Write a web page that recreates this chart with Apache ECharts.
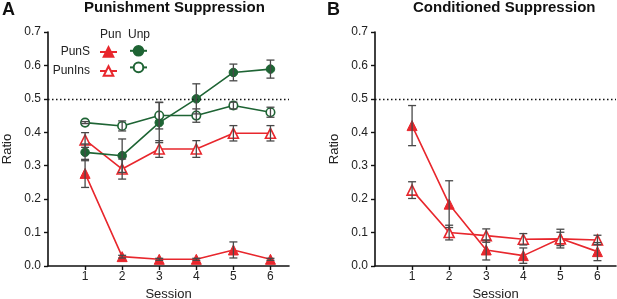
<!DOCTYPE html>
<html>
<head>
<meta charset="utf-8">
<script src="https://cdn.jsdelivr.net/npm/echarts@6/dist/echarts.min.js"></script>
<style>
  html, body { margin: 0; padding: 0; background: #fff; }
  #chart { width: 617px; height: 299px; }
</style>
</head>
<body>
<div id="chart"></div>
<script>
// sessions (x values)
var sessions = [1, 2, 3, 4, 5, 6];
var yTicks = [0, 0.1, 0.2, 0.3, 0.4, 0.5, 0.6, 0.7];

// panel A - punishment suppression
var aPunS = [0.277, 0.028, 0.02, 0.02, 0.048, 0.02];
var aPunSErr = [0.042, 0.004, 0.003, 0.003, 0.024, 0.003];
var aPunIns = [0.377, 0.29, 0.35, 0.35, 0.397, 0.397];
var aPunInsErr = [0.022, 0.03, 0.025, 0.025, 0.023, 0.023];
var aUnpS = [0.34, 0.33, 0.429, 0.50, 0.579, 0.589];
var aUnpSErr = [0.025, 0.05, 0.06, 0.045, 0.025, 0.027];
var aUnpIns = [0.429, 0.419, 0.45, 0.45, 0.48, 0.46];
var aUnpInsErr = [0.003, 0.015, 0.04, 0.02, 0.01, 0.015];

// panel B - conditioned suppression
var bPunS = [0.42, 0.185, 0.048, 0.031, 0.082, 0.043];
var bPunSErr = [0.06, 0.07, 0.03, 0.023, 0.028, 0.027];
var bPunIns = [0.227, 0.10, 0.091, 0.08, 0.081, 0.078];
var bPunInsErr = [0.025, 0.022, 0.02, 0.017, 0.02, 0.014];

var RED = "#e8272d";
var GREEN = "#1e6434";
var ERR = "#484848";
var FONT = "Liberation Sans, Arial, sans-serif";

function pairs(ys) {
  return sessions.map(function (x, i) { return [x, ys[i]]; });
}
function errData(ys, es) {
  return sessions.map(function (x, i) { return [x, ys[i] - es[i], ys[i] + es[i]]; });
}

function lineSeries(name, idx, ys, color, open, sym) {
  return {
    name: name,
    type: "line",
    xAxisIndex: idx,
    yAxisIndex: idx,
    data: pairs(ys),
    symbol: sym,
    symbolSize: sym === "triangle" ? 10 : 8.5,
    lineStyle: { color: color, width: 1.6 },
    itemStyle: open
      ? { color: "#fff", borderColor: color, borderWidth: 1.6 }
      : { color: color, borderColor: color, borderWidth: 1 },
    z: 3,
    animation: false
  };
}

function errSeries(idx, ys, es) {
  return {
    type: "custom",
    xAxisIndex: idx,
    yAxisIndex: idx,
    data: errData(ys, es),
    z: 5,
    silent: true,
    animation: false,
    renderItem: function (params, api) {
      var lo = api.coord([api.value(0), api.value(1)]);
      var hi = api.coord([api.value(0), api.value(2)]);
      var w = 4;
      var st = { stroke: ERR, lineWidth: 1.3 };
      return {
        type: "group",
        children: [
          { type: "line", shape: { x1: lo[0], y1: lo[1], x2: hi[0], y2: hi[1] }, style: st },
          { type: "line", shape: { x1: lo[0] - w, y1: lo[1], x2: lo[0] + w, y2: lo[1] }, style: st },
          { type: "line", shape: { x1: hi[0] - w, y1: hi[1], x2: hi[0] + w, y2: hi[1] }, style: st }
        ]
      };
    }
  };
}

function xAxis(idx) {
  return {
    type: "value",
    gridIndex: idx,
    min: 0,
    max: 6.5,
    interval: 1,
    name: "Session",
    nameLocation: "middle",
    nameGap: 21,
    nameTextStyle: { fontFamily: FONT, fontSize: 13, color: "#222" },
    splitLine: { show: false },
    axisLine: { lineStyle: { color: "#111", width: 1.6 } },
    axisTick: { length: 4, lineStyle: { color: "#111", width: 1.4 }, customValues: sessions },
    axisLabel: { fontFamily: FONT, fontSize: 12, color: "#222", margin: 5, customValues: sessions }
  };
}

function yAxis(idx) {
  return {
    type: "value",
    gridIndex: idx,
    min: 0,
    max: 0.7,
    interval: 0.1,
    name: "Ratio",
    nameLocation: "middle",
    nameGap: 34,
    nameTextStyle: { fontFamily: FONT, fontSize: 13, color: "#222" },
    splitLine: { show: false },
    axisLine: { show: true, lineStyle: { color: "#111", width: 1.6 } },
    axisTick: { show: true, length: 4, lineStyle: { color: "#111", width: 1.4 }, customValues: yTicks },
    axisLabel: {
      fontFamily: FONT, fontSize: 12, color: "#222", margin: 7, customValues: yTicks,
      formatter: function (v) { return v.toFixed(1); }
    }
  };
}

var refLine = {
  silent: true,
  symbol: "none",
  label: { show: false },
  lineStyle: { color: "#111", type: [1.5, 2.5], width: 1.4 },
  data: [{ yAxis: 0.5 }]
};

var sA1 = lineSeries("PunS", 0, aPunS, RED, false, "triangle");
var sA2 = lineSeries("PunIns", 0, aPunIns, RED, true, "triangle");
var sA3 = lineSeries("Unp S", 0, aUnpS, GREEN, false, "circle");
var sA4 = lineSeries("Unp Ins", 0, aUnpIns, GREEN, true, "circle");
var sB1 = lineSeries("B PunS", 1, bPunS, RED, false, "triangle");
var sB2 = lineSeries("B PunIns", 1, bPunIns, RED, true, "triangle");
sA1.markLine = refLine;
sB1.markLine = refLine;

var chart = echarts.init(document.getElementById("chart"));
chart.setOption({
  backgroundColor: "#fff",
  textStyle: { fontFamily: FONT },
  grid: [
    { left: 48, top: 32, width: 241, height: 234, containLabel: false, outerBoundsMode: "none" },
    { left: 375, top: 32, width: 241, height: 234, containLabel: false, outerBoundsMode: "none" }
  ],
  xAxis: [xAxis(0), xAxis(1)],
  yAxis: [yAxis(0), yAxis(1)],
  legend: [
    {
      data: ["PunS", "PunIns"],
      orient: "vertical",
      align: "right",
      right: 494,
      top: 40,
      itemWidth: 17,
      itemHeight: 12,
      itemGap: 5,
      selectedMode: false,
      textStyle: { fontFamily: FONT, fontSize: 12, color: "#222", lineHeight: 14, padding: [0, 5, 0, 0] }
    },
    {
      data: ["Unp S", "Unp Ins"],
      orient: "vertical",
      left: 124,
      top: 40,
      itemWidth: 17,
      itemHeight: 12,
      itemGap: 5,
      selectedMode: false,
      formatter: function () { return ""; },
      textStyle: { fontSize: 12, lineHeight: 14 }
    }
  ],
  graphic: [
    { type: "text", left: 2, top: 1, style: { text: "A", font: "bold 18px " + FONT, fill: "#111" } },
    { type: "text", left: 327, top: 1, style: { text: "B", font: "bold 18px " + FONT, fill: "#111" } },
    { type: "text", left: 84, top: 0, style: { text: "Punishment Suppression", font: "bold 15px " + FONT, fill: "#111" } },
    { type: "text", left: 413, top: 0, style: { text: "Conditioned Suppression", font: "bold 15px " + FONT, fill: "#111" } },
    { type: "text", left: 100, top: 29, style: { text: "Pun", font: "12px " + FONT, fill: "#222" } },
    { type: "text", left: 128, top: 29, style: { text: "Unp", font: "12px " + FONT, fill: "#222" } }
  ],
  series: [
    sA1, sA2, sA3, sA4, sB1, sB2,
    errSeries(0, aPunS, aPunSErr),
    errSeries(0, aPunIns, aPunInsErr),
    errSeries(0, aUnpS, aUnpSErr),
    errSeries(0, aUnpIns, aUnpInsErr),
    errSeries(1, bPunS, bPunSErr),
    errSeries(1, bPunIns, bPunInsErr)
  ]
});
</script>
</body>
</html>
